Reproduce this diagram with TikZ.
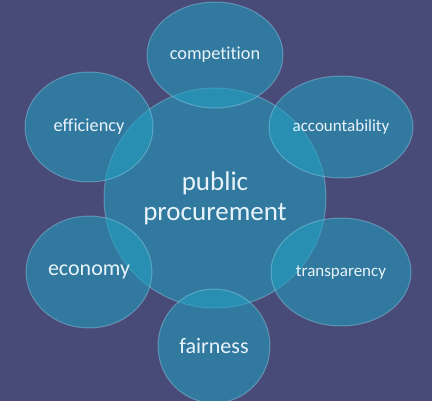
\documentclass[tikz,border=0pt]{standalone}
\usepackage{fontspec}
\setmainfont{Carlito}[Ligatures=NoCommon]
\usetikzlibrary{shapes.geometric}
\definecolor{bgcol}{RGB}{72,74,120}
\definecolor{bubblefill}{RGB}{32,161,193}
\definecolor{rimcol}{RGB}{170,230,245}
\definecolor{txtcol}{RGB}{232,244,250}
\tikzset{
  bubble/.style={ellipse, inner sep=0pt, fill=bubblefill, fill opacity=0.55,
    draw=rimcol, draw opacity=0.35, line width=1pt,
    text opacity=1, text=txtcol},
}
\begin{document}
\begin{tikzpicture}[x=1pt,y=-1pt]
\fill[bgcol] (0,0) rectangle (432,401);
\useasboundingbox (0,0) rectangle (432,401);
\node[bubble, minimum width=222pt, minimum height=220pt, align=center,
  font=\fontsize{27}{30}\selectfont] (pp) at (215,198) {public\\procurement};
\node[bubble, minimum width=136pt, minimum height=106pt,
  font=\fontsize{18.3}{22}\selectfont] (comp) at (215,55) {competition};
\node[bubble, minimum width=128pt, minimum height=110pt,
  font=\fontsize{18.3}{22}\selectfont] (eff) at (89,127) {efficiency};
\node[bubble, minimum width=144pt, minimum height=102pt,
  font=\fontsize{17}{20}\selectfont] (acc) at (341,127) {accountability};
\node[bubble, minimum width=126pt, minimum height=112pt,
  font=\fontsize{22}{26}\selectfont] (eco) at (89,272) {economy};
\node[bubble, minimum width=140pt, minimum height=108pt,
  font=\fontsize{17}{20}\selectfont] (tra) at (341,272) {transparency};
\node[bubble, minimum width=112pt, minimum height=114pt,
  font=\fontsize{22}{26}\selectfont] (fair) at (214,346) {fairness};
\end{tikzpicture}
\end{document}
